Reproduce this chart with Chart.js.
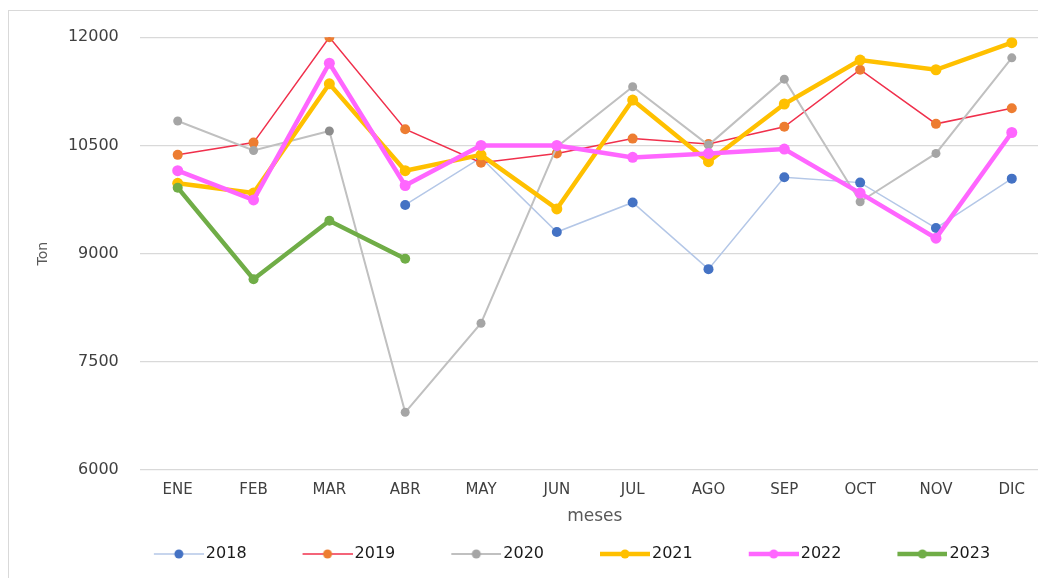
<!DOCTYPE html>
<html>
<head>
<meta charset="utf-8">
<script src="https://cdn.jsdelivr.net/npm/chart.js@4"></script>
<style>
  html, body { margin: 0; padding: 0; background: #ffffff; overflow: hidden; width: 1038px; height: 578px; }
  #frame { position: absolute; left: 8px; top: 10px; width: 2000px; height: 2000px; border-left: 1px solid #d9d9d9; border-top: 1px solid #d9d9d9; z-index: 0; }
  #c { position: absolute; left: 0; top: 0; z-index: 1; }
</style>
</head>
<body>
<div id="frame"></div>
<canvas id="c" width="1084" height="578"></canvas>
<script>
const months = ['ENE','FEB','MAR','ABR','MAY','JUN','JUL','AGO','SEP','OCT','NOV','DIC'];
const seriesNames = ['2018','2019','2020','2021','2022','2023'];
const v2018 = [null, null, null, 9675, 10330, 9300, 9710, 8785, 10060, 9985, 9355, 10040];
const v2019 = [10370, 10540, 12000, 10725, 10260, 10390, 10595, 10520, 10760, 11550, 10800, 11015];
const v2020 = [10840, 10430, 10700, 6800, 8035, 10480, 11315, 10505, 11420, 9720, 10390, 11715];
const v2021 = [9975, 9840, 11355, 10150, 10370, 9620, 11130, 10275, 11075, 11685, 11550, 11925];
const v2022 = [10150, 9745, 11640, 9945, 10500, 10500, 10335, 10390, 10450, 9840, 9215, 10680];
const v2023 = [9915, 8645, 9455, 8930, null, null, null, null, null, null, null, null];
const yTicks = [6000, 7500, 9000, 10500, 12000];

const FONT = 'DejaVu Sans';
const styles = [
  { line: '#b4c7e7', lw: 1.5, dot: '#4472c4', r: 5 },
  { line: '#f0304c', lw: 1.5, dot: '#ed7d31', r: 5 },
  { line: '#c0c0c0', lw: 2, dot: '#a5a5a5', r: 4.5 },
  { line: '#ffc000', lw: 4.5, dot: '#ffc000', r: 5.5 },
  { line: '#ff66ff', lw: 4.5, dot: '#ff66ff', r: 5.5 },
  { line: '#70ad47', lw: 4.5, dot: '#70ad47', r: 5 }
];
const values = [v2018, v2019, v2020, v2021, v2022, v2023];

const LEG_W = 96;
function legendImage(s) {
  const c = document.createElement('canvas');
  c.width = LEG_W + 12; c.height = 14;
  const g = c.getContext('2d');
  const x1 = c.width - 50, x2 = c.width;
  g.strokeStyle = s.line; g.lineWidth = s.lw;
  g.beginPath(); g.moveTo(x1, 7); g.lineTo(x2, 7); g.stroke();
  g.fillStyle = s.dot;
  g.beginPath(); g.arc((x1 + x2) / 2, 7, 4.5, 0, Math.PI * 2); g.fill();
  return c;
}
const legendImgs = styles.map(legendImage);

const datasets = values.map((vals, i) => ({
  label: seriesNames[i],
  data: vals,
  borderColor: styles[i].line,
  borderWidth: styles[i].lw,
  backgroundColor: styles[i].dot,
  pointBackgroundColor: i === 2 ? vals.map((v, k) => k === 2 ? '#8c8c8c' : styles[i].dot) : styles[i].dot,
  pointBorderColor: i === 2 ? vals.map((v, k) => k === 2 ? '#8c8c8c' : styles[i].dot) : styles[i].dot,
  pointBorderWidth: 0,
  pointRadius: styles[i].r,
  tension: 0,
  spanGaps: false,
  order: values.length - i
}));

new Chart(document.getElementById('c'), {
  type: 'line',
  data: { labels: months, datasets },
  options: {
    responsive: false,
    animation: false,
    layout: { padding: { left: 8, top: 37.3, right: 0, bottom: 6 } },
    plugins: {
      tooltip: { enabled: false },
      legend: {
        position: 'bottom',
        labels: {
          usePointStyle: true,
          pointStyleWidth: LEG_W,
          padding: 4,
          color: '#1a1a1a',
          font: { family: FONT, size: 16 },
          generateLabels: (chart) => {
            const items = Chart.defaults.plugins.legend.labels.generateLabels(chart);
            items.sort((a, b) => a.datasetIndex - b.datasetIndex);
            items.forEach(it => { it.pointStyle = legendImgs[it.datasetIndex]; });
            return items;
          }
        }
      }
    },
    scales: {
      x: {
        offset: true,
        grid: { display: false, drawTicks: false },
        border: { display: false },
        ticks: { color: '#404040', font: { family: FONT, size: 15 }, padding: 11, maxRotation: 0 },
        title: { display: true, text: 'meses', color: '#595959', font: { family: FONT, size: 17 }, padding: { top: 0, bottom: 14.8 } },
        afterFit: (s) => { s.height = 72; }
      },
      y: {
        min: 6000, max: 12000,
        afterBuildTicks: (s) => { s.ticks = yTicks.map(v => ({ value: v })); },
        grid: { color: '#d9d9d9', lineWidth: 1.2, drawTicks: false },
        border: { display: false },
        ticks: { color: '#404040', font: { family: FONT, size: 16 }, padding: 21, callback: (v) => String(v) },
        title: { display: true, text: 'Ton', color: '#595959', font: { family: FONT, size: 14 }, padding: { top: 27, bottom: 0 } },
        afterFit: (s) => { s.width = 131.8; }
      },
      y2: {
        position: 'right',
        display: true,
        grid: { display: false, drawTicks: false },
        border: { display: false },
        ticks: { display: false },
        afterFit: (s) => { s.width = 34.3; }
      }
    }
  }
});
</script>
</body>
</html>
